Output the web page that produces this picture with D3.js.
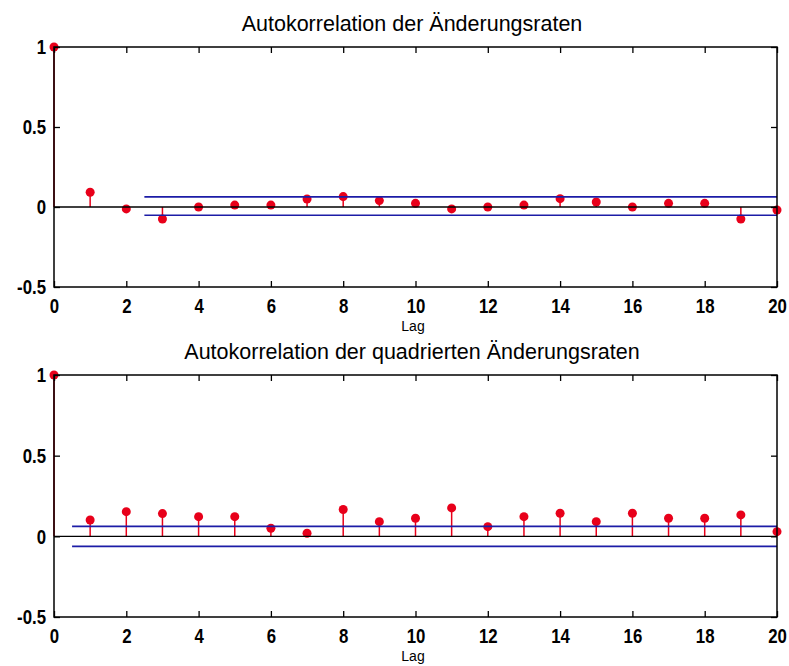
<!DOCTYPE html>
<html>
<head>
<meta charset="utf-8">
<script src="https://cdn.jsdelivr.net/npm/d3@7"></script>
<style>
    body { margin: 0; background: #fff; }
    .tick text { font-family: "Liberation Sans", Arial, sans-serif; font-weight: bold; font-size: 21px; fill: #000; }
    .title { font-family: "Liberation Sans", Arial, sans-serif; font-size: 21.5px; fill: #000; }
    .xlabel { font-family: "Liberation Sans", Arial, sans-serif; font-size: 14px; fill: #000; }
</style>
</head>
<body>
<div id="chart"></div>
<script>
// Lags 0..20
var lags = [0, 1, 2, 3, 4, 5, 6, 7, 8, 9, 10, 11, 12, 13, 14, 15, 16, 17, 18, 19, 20];

// ACF of the change rates
var acfRates = [1, 0.092, -0.012, -0.075, 0.0, 0.012, 0.012, 0.05, 0.065, 0.04, 0.023,
                -0.012, 0.0, 0.012, 0.052, 0.031, 0.0, 0.023, 0.023, -0.075, -0.019];

// ACF of the squared change rates
var acfSquared = [1, 0.101, 0.153, 0.141, 0.122, 0.122, 0.05, 0.019, 0.166, 0.091, 0.112,
                  0.176, 0.06, 0.122, 0.143, 0.091, 0.143, 0.112, 0.112, 0.133, 0.029];

// confidence bounds: [from lag, to lag, upper, lower]
var boundsRates = [2.5, 20, 0.063, -0.052];
var boundsSquared = [0.5, 20, 0.062, -0.062];

var xTicks = [0, 2, 4, 6, 8, 10, 12, 14, 16, 18, 20];
var yTicks = [-0.5, 0, 0.5, 1];

var titles = ["Autokorrelation der Änderungsraten", "Autokorrelation der quadrierten Änderungsraten"];

var width = 789;
var height = 666;

var svg = d3.select("#chart").append("svg")
    .attr("width", width)
    .attr("height", height);

var red = "#e8001a";
var blue = "#1c1ca6";

// squeeze the bold tick digits so they look like the narrow font of the original
function narrow(a) {
    a.select(".domain").remove();
    a.selectAll("line").style("stroke-width", 1.3);
    a.selectAll("text").attr("transform", "scale(0.8,1)");
}

function drawPanel(top, bottom, values, bounds, title) {
    var x = d3.scaleLinear().domain([0, 20]).range([54, 777]);
    var y = d3.scaleLinear().domain([-0.5, 1]).range([bottom, top]);

    var g = svg.append("g");

    // stems
    g.selectAll(".stem")
        .data(values)
        .enter().append("line")
        .attr("x1", function(d, i) { return x(lags[i]); })
        .attr("x2", function(d, i) { return x(lags[i]); })
        .attr("y1", y(0))
        .attr("y2", function(d) { return y(d); })
        .style("stroke", red)
        .style("stroke-width", 1.5);

    // markers
    g.selectAll(".dot")
        .data(values)
        .enter().append("circle")
        .attr("cx", function(d, i) { return x(lags[i]); })
        .attr("cy", function(d) { return y(d); })
        .attr("r", 4.5)
        .style("fill", red);

    // zero line
    g.append("line")
        .attr("x1", x(0)).attr("x2", x(20))
        .attr("y1", y(0)).attr("y2", y(0))
        .style("stroke", "#000")
        .style("stroke-width", 1.3);

    // bounds
    [bounds[2], bounds[3]].forEach(function(b) {
        g.append("line")
            .attr("x1", x(bounds[0])).attr("x2", x(bounds[1]))
            .attr("y1", y(b)).attr("y2", y(b))
            .style("stroke", blue)
            .style("stroke-width", 1.6);
    });

    // axes, ticks pointing inward
    var tickLen = 6;
    g.append("g")
        .attr("transform", "translate(0," + bottom + ")")
        .call(d3.axisBottom(x).tickValues(xTicks).tickFormat(d3.format("d")).tickSizeInner(-tickLen).tickSizeOuter(0).tickPadding(11))
        .call(narrow);
    g.append("g")
        .attr("transform", "translate(0," + top + ")")
        .call(d3.axisTop(x).tickValues(xTicks).tickFormat("").tickSizeInner(-tickLen).tickSizeOuter(0))
        .call(narrow);
    g.append("g")
        .attr("transform", "translate(54,0)")
        .call(d3.axisLeft(y).tickValues(yTicks).tickFormat(function(d) { return d === 0 || d === 1 ? d : d3.format(".1f")(d).replace("−", "-"); }).tickSizeInner(-tickLen).tickSizeOuter(0).tickPadding(10))
        .call(narrow);
    g.append("g")
        .attr("transform", "translate(777,0)")
        .call(d3.axisRight(y).tickValues(yTicks).tickFormat("").tickSizeInner(-tickLen).tickSizeOuter(0))
        .call(narrow);

    // frame
    g.append("rect")
        .attr("x", x(0)).attr("y", top)
        .attr("width", x(20) - x(0)).attr("height", bottom - top)
        .style("fill", "none")
        .style("stroke", "#000")
        .style("stroke-width", 1.5);

    g.append("text")
        .attr("class", "title")
        .attr("x", 412).attr("y", top - 16)
        .attr("text-anchor", "middle")
        .text(title);

    g.append("text")
        .attr("class", "xlabel")
        .attr("x", 413).attr("y", bottom + 44)
        .attr("text-anchor", "middle")
        .text("Lag");
}

drawPanel(47, 287, acfRates, boundsRates, titles[0]);
drawPanel(375, 617, acfSquared, boundsSquared, titles[1]);
</script>
</body>
</html>
